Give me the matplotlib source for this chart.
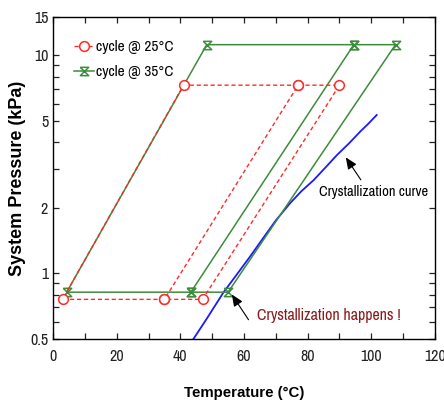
import matplotlib.pyplot as plt
from matplotlib.path import Path
from matplotlib.ticker import FixedLocator, FixedFormatter, NullFormatter

plt.rcParams['font.family'] = ['Archivo Narrow', 'Roboto Condensed', 'DejaVu Sans']

# cycle @ 25°C  (red), polyline through the cycle vertices
red_t = [77, 41, 3, 35, 77, 90, 47, 35]
red_p = [7.3, 7.3, 0.76, 0.76, 7.3, 7.3, 0.76, 0.76]

# cycle @ 35°C  (green)
green_t = [94.5, 48.3, 4.3, 43.3, 94.5, 107.6, 55, 43.3]
green_p = [11.2, 11.2, 0.82, 0.82, 11.2, 11.2, 0.82, 0.82]

# crystallization curve (blue)
cryst_t = [44.1, 48, 53.6, 58, 62, 66, 70, 74.5, 78, 81.9, 85.5, 89.2, 93, 96.5, 99, 101.7]
cryst_p = [0.5, 0.61, 0.82, 1.0, 1.2, 1.45, 1.75, 2.10, 2.38, 2.68, 3.05, 3.49, 3.95, 4.47, 4.85, 5.33]

y_major = [0.5, 1, 2, 5, 10, 15]
y_labels = ['0.5', '1', '2', '5', '10', '15']
y_minor = [0.6, 0.7, 0.8, 0.9, 3, 4, 6, 7, 8, 9]

# hourglass marker
hg = Path([(-1, 1), (1, 1), (-1, -1), (1, -1), (-1, 1)],
          [Path.MOVETO, Path.LINETO, Path.LINETO, Path.LINETO, Path.LINETO])

fig = plt.figure(figsize=(4.44, 4.03), dpi=100)
ax = fig.add_axes([0.1194, 0.1588, 0.8603, 0.799])

green = '#3c8c3c'
red = '#ff2a2a'
ax.plot(green_t, green_p, color=green, lw=1.1, marker=hg, ms=6, mfc='none',
        mec=green, mew=1.1, label='cycle @ 35°C', zorder=3)
ax.plot(red_t, red_p, color=red, lw=1.0, ls=(0, (3, 2)), marker='o', ms=7,
        mfc='white', mec=red, mew=1.1, label='cycle @ 25°C', zorder=4)
ax.plot(cryst_t, cryst_p, color='#1a1aff', lw=1.3, zorder=2)

ax.set_yscale('log')
ax.set_xlim(0, 120)
ax.set_ylim(0.5, 15)
ax.xaxis.set_major_locator(FixedLocator([0, 20, 40, 60, 80, 100, 120]))
ax.xaxis.set_minor_locator(FixedLocator([10, 30, 50, 70, 90, 110]))
ax.yaxis.set_major_locator(FixedLocator(y_major))
ax.yaxis.set_major_formatter(FixedFormatter(y_labels))
ax.yaxis.set_minor_locator(FixedLocator(y_minor))
ax.yaxis.set_minor_formatter(NullFormatter())
ax.tick_params(which='both', direction='in', top=True, right=True,
               labelsize=11.5, length=4, width=0.9, colors='#222222')
ax.tick_params(axis='x', pad=7)
for s in ax.spines.values():
    s.set_linewidth(1.0)

ax.set_xlabel('Temperature (°C)', fontsize=10.8, fontweight='bold',
              family=['Liberation Sans', 'DejaVu Sans'], labelpad=16)
ax.set_ylabel('System Pressure (kPa)', fontsize=13, fontweight='bold',
              family=['Liberation Sans', 'DejaVu Sans'], labelpad=3)

h, l = ax.get_legend_handles_labels()
ax.legend(h[::-1], l[::-1], loc='upper left', bbox_to_anchor=(0.02, 0.97),
          frameon=False, fontsize=11, handlelength=1.3, handletextpad=0.1,
          labelspacing=0.7)

ax.text(83.6, 2.36, 'Crystallization curve', fontsize=10.5, va='center')
ax.annotate('', xy=(91.5, 3.49), xytext=(97.2, 2.62),
            arrowprops=dict(arrowstyle='-|>,head_length=0.7,head_width=0.3',
                            color='black', lw=0.8))
ax.text(64.2, 0.644, 'Crystallization happens !', fontsize=11.5,
        color='#8b1a1a', va='center')
ax.annotate('', xy=(55.7, 0.82), xytext=(61.9, 0.598),
            arrowprops=dict(arrowstyle='-|>,head_length=0.7,head_width=0.3',
                            color='black', lw=0.8))

fig.savefig('out.png', dpi=100)
